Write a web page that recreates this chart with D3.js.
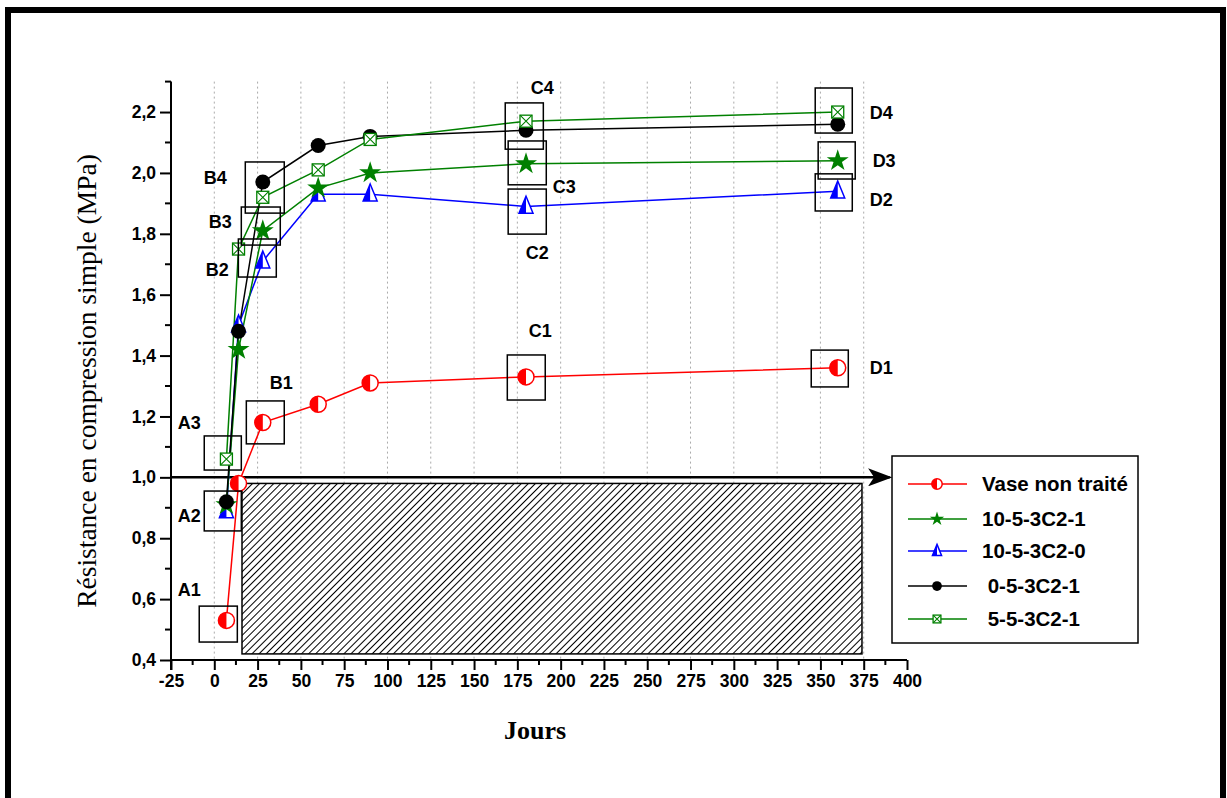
<!DOCTYPE html>
<html><head><meta charset="utf-8">
<script src="https://cdn.jsdelivr.net/npm/d3@7"></script>
<style>body{margin:0;background:#fff}svg{display:block}</style>
</head><body><svg id="c" width="1227" height="798"></svg>
<script>
// ---- data ----
const days = [7, 14, 28, 60, 90, 180, 360];
const seriesNames = ["Vase non traité", "10-5-3C2-1", "10-5-3C2-0", "0-5-3C2-1", "5-5-3C2-1"];
const vaseNonTraite = [0.53, 0.98, 1.18, 1.24, 1.31, 1.33, 1.36];
const s10_5_1 = [0.91, 1.42, 1.81, 1.95, 2.00, 2.03, 2.04];
const s10_5_0 = [0.89, 1.50, 1.71, 1.93, 1.93, 1.89, 1.94];
const s0_5_1 = [0.92, 1.48, 1.97, 2.09, 2.12, 2.14, 2.16];
const s5_5_1 = [1.06, 1.75, 1.92, 2.01, 2.11, 2.17, 2.20];
const xTicks = [-25, 0, 25, 50, 75, 100, 125, 150, 175, 200, 225, 250, 275, 300, 325, 350, 375, 400];
const yTicks = [0.4, 0.6, 0.8, 1.0, 1.2, 1.4, 1.6, 1.8, 2.0, 2.2];
// annotation boxes: label, day range, value range, label anchor (day, value)
const boxLabels = ["A1","A2","A3","B1","B2","B3","B4","C1","C2","C3","C4","D1","D2","D3","D4"];
const boxDays = [[-8.7,13.3],[-5.8,15.6],[-5.8,15.6],[18.5,40.4],[13.9,35.8],[15.6,38.1],[17.9,40.4],
  [169.2,191.1],[169.7,191.7],[169.7,191.7],[168.0,190.0],[344.7,366.1],[347.0,368.4],[348.7,370.1],[347.0,368.4]];
const boxVals = [[0.577,0.459],[0.955,0.824],[1.136,1.024],[1.251,1.110],[1.783,1.658],[1.888,1.763],[2.036,1.868],
  [1.402,1.254],[1.947,1.799],[2.105,1.961],[2.230,2.078],[1.418,1.297],[1.997,1.875],[2.102,1.980],[2.279,2.131]];
const labelPos = [[-14.4,0.630],[-14.4,0.873],[-14.4,1.179],[38.7,1.310],[1.7,1.681],[3.5,1.839],[0.6,1.983],
  [188.2,1.481],[186.5,1.737],[202.1,1.954],[189.4,2.279],[385.1,1.359],[385.1,1.911],[386.8,2.039],[385.1,2.197]];
const hatchDays = [16, 374];
const hatchVals = [0.42, 0.98];
const arrowDays = [-25, 390];
const arrowVal = 1.0;

// ---- layout ----
const svg = d3.select("#c");
const x = d3.scaleLinear().domain([-25, 400]).range([171, 907]);
const y = d3.scaleLinear().domain([0.4, 2.3]).range([660, 81.6]);

// frame
svg.append("rect").attr("x", 8).attr("y", 10).attr("width", 1215).attr("height", 820)
  .attr("fill", "none").attr("stroke", "#000").attr("stroke-width", 6);

// grid
svg.append("g").selectAll("line").data(xTicks.filter(d => d > -25 && d < 400)).join("line")
  .attr("x1", d => x(d)).attr("x2", d => x(d)).attr("y1", y(2.3)).attr("y2", y(0.4))
  .attr("stroke", "#aaa").attr("stroke-width", 1).attr("stroke-dasharray", "2,3");

// hatched rect
const defs = svg.append("defs");
const pat = defs.append("pattern").attr("id", "hatch").attr("patternUnits", "userSpaceOnUse")
  .attr("width", 5).attr("height", 5).attr("patternTransform", "rotate(45)");
pat.append("rect").attr("width", 5).attr("height", 5).attr("fill", "#fff");
pat.append("line").attr("x1", 0).attr("y1", 0).attr("x2", 0).attr("y2", 5).attr("stroke", "#000").attr("stroke-width", 2);
svg.append("rect").attr("x", x(hatchDays[0])).attr("y", y(hatchVals[1]))
  .attr("width", x(hatchDays[1]) - x(hatchDays[0])).attr("height", y(hatchVals[0]) - y(hatchVals[1]))
  .attr("fill", "url(#hatch)").attr("stroke", "#000").attr("stroke-width", 1.5);

// arrow
defs.append("marker").attr("id", "arr").attr("viewBox", "0 0 10 10").attr("refX", 9).attr("refY", 5)
  .attr("markerWidth", 24).attr("markerHeight", 18).attr("markerUnits", "userSpaceOnUse").attr("orient", "auto")
  .attr("preserveAspectRatio", "none")
  .append("path").attr("d", "M0,0 L10,5 L0,10 L2.5,5 Z").attr("fill", "#000");
svg.append("line").attr("x1", x(arrowDays[0])).attr("x2", x(arrowDays[1])).attr("y1", y(arrowVal)).attr("y2", y(arrowVal))
  .attr("stroke", "#000").attr("stroke-width", 2.5).attr("marker-end", "url(#arr)");

// axes
const xAxis = svg.append("g").attr("transform", "translate(0,660)")
  .call(d3.axisBottom(x).tickValues(xTicks).tickSize(10).tickPadding(5).tickFormat(d => String(d)));
xAxis.append("g").selectAll("line").data(d3.range(-12.5, 400, 25)).join("line")
  .attr("x1", d => x(d)).attr("x2", d => x(d)).attr("y1", 0).attr("y2", 5).attr("stroke", "#000").attr("stroke-width", 2);
const yAxis = svg.append("g").attr("transform", "translate(171,0)")
  .call(d3.axisLeft(y).tickValues(yTicks).tickSize(11).tickPadding(4).tickFormat(d => d.toFixed(1).replace(".", ",")));
yAxis.append("g").selectAll("line").data([0.5,0.7,0.9,1.1,1.3,1.5,1.7,1.9,2.1,2.3]).join("line")
  .attr("y1", d => y(d)).attr("y2", d => y(d)).attr("x1", 0).attr("x2", -6).attr("stroke", "#000").attr("stroke-width", 2);
[xAxis, yAxis].forEach(a => {
  a.selectAll(".tick line").attr("stroke-width", 2);
  a.selectAll("text").attr("font-family", "Liberation Sans, Arial, sans-serif").attr("font-weight", "bold")
    .attr("font-size", 17.5).attr("fill", "#000");
  a.select(".domain").remove();
});
svg.append("line").attr("x1", x(-25)).attr("x2", x(400)).attr("y1", 660).attr("y2", 660).attr("stroke", "#000").attr("stroke-width", 2);
svg.append("line").attr("x1", 171).attr("x2", 171).attr("y1", y(2.3)).attr("y2", 670).attr("stroke", "#000").attr("stroke-width", 2);

// axis titles
svg.append("text").attr("transform", "translate(96,381) rotate(-90)").attr("text-anchor", "middle")
  .attr("font-family", "Liberation Serif, Times New Roman, serif").attr("font-size", 27.5).text("Résistance en compression simple (MPa)");
svg.append("text").attr("x", 535).attr("y", 739).attr("text-anchor", "middle")
  .attr("font-family", "Liberation Serif, Times New Roman, serif").attr("font-weight", "bold").attr("font-size", 26).text("Jours");

// markers
function drawMarker(g, type, cx, cy, s) {
  if (type === "halfcircle") {
    const r = 8 * s;
    g.append("circle").attr("cx", cx).attr("cy", cy).attr("r", r).attr("fill", "#fff").attr("stroke", "#f00").attr("stroke-width", 1.5);
    g.append("path").attr("d", `M${cx},${cy - r} A${r},${r} 0 0 0 ${cx},${cy + r} Z`).attr("fill", "#f00");
  } else if (type === "star") {
    const star = d3.symbol().type(d3.symbolStar).size(150 * s * s);
    g.append("path").attr("d", star()).attr("transform", `translate(${cx},${cy})`).attr("fill", "#008000");
  } else if (type === "halftri") {
    const h = 17 * s, w = 14 * s;
    g.append("path").attr("d", `M${cx},${cy - h * 0.6} L${cx + w / 2},${cy + h * 0.4} L${cx - w / 2},${cy + h * 0.4} Z`)
      .attr("fill", "#fff").attr("stroke", "#00f").attr("stroke-width", 1.5);
    g.append("path").attr("d", `M${cx},${cy - h * 0.6} L${cx},${cy + h * 0.4} L${cx - w / 2},${cy + h * 0.4} Z`).attr("fill", "#00f");
  } else if (type === "dot") {
    g.append("circle").attr("cx", cx).attr("cy", cy).attr("r", 7.5 * s).attr("fill", "#000");
  } else if (type === "xsquare") {
    const a = 6 * s;
    g.append("rect").attr("x", cx - a).attr("y", cy - a).attr("width", 2 * a).attr("height", 2 * a)
      .attr("fill", "#fff").attr("stroke", "#008000").attr("stroke-width", 1.3);
    g.append("path").attr("d", `M${cx - a},${cy - a} L${cx + a},${cy + a} M${cx + a},${cy - a} L${cx - a},${cy + a}`)
      .attr("stroke", "#008000").attr("stroke-width", 1.1);
  }
}
const series = [
  { name: seriesNames[0], vals: vaseNonTraite, color: "#ff0000", type: "halfcircle" },
  { name: seriesNames[1], vals: s10_5_1, color: "#008000", type: "star" },
  { name: seriesNames[2], vals: s10_5_0, color: "#0000ff", type: "halftri" },
  { name: seriesNames[3], vals: s0_5_1, color: "#000000", type: "dot" },
  { name: seriesNames[4], vals: s5_5_1, color: "#008000", type: "xsquare" }
];
const line = d3.line().x((d, i) => x(days[i])).y(d => y(d));
const drawOrder = [0, 2, 1, 3, 4];
drawOrder.forEach(k => {
  const s = series[k];
  svg.append("path").attr("d", line(s.vals)).attr("fill", "none").attr("stroke", s.color).attr("stroke-width", 1.5);
});
drawOrder.forEach(k => {
  const s = series[k];
  const g = svg.append("g");
  s.vals.forEach((v, i) => drawMarker(g, s.type, x(days[i]), y(v), 1));
});

// annotation boxes
boxLabels.forEach((lab, i) => {
  svg.append("rect").attr("x", x(boxDays[i][0])).attr("y", y(boxVals[i][0]))
    .attr("width", x(boxDays[i][1]) - x(boxDays[i][0])).attr("height", y(boxVals[i][1]) - y(boxVals[i][0]))
    .attr("fill", "none").attr("stroke", "#000").attr("stroke-width", 1.5);
  svg.append("text").attr("x", x(labelPos[i][0])).attr("y", y(labelPos[i][1])).attr("dy", "0.35em")
    .attr("text-anchor", "middle").attr("font-family", "Liberation Sans, Arial, sans-serif")
    .attr("font-weight", "bold").attr("font-size", 18).text(lab);
});

// legend
const lg = svg.append("g");
lg.append("rect").attr("x", 892).attr("y", 456).attr("width", 246).attr("height", 187)
  .attr("fill", "#fff").attr("stroke", "#000").attr("stroke-width", 1.5);
const legY = [484, 519, 551, 586, 619];
const legText = ["Vase non traité", "10-5-3C2-1", "10-5-3C2-0", " 0-5-3C2-1", " 5-5-3C2-1"];
series.forEach((s, i) => {
  lg.append("line").attr("x1", 908).attr("x2", 967).attr("y1", legY[i]).attr("y2", legY[i]).attr("stroke", s.color).attr("stroke-width", 1.5);
  drawMarker(lg, s.type, 937, legY[i], 0.65);
  lg.append("text").attr("x", 982).attr("y", legY[i]).attr("dy", "0.36em")
    .style("white-space", "pre")
    .attr("font-family", "Liberation Sans, Arial, sans-serif").attr("font-weight", "bold").attr("font-size", 20.5).text(legText[i]);
});
</script></body></html>
